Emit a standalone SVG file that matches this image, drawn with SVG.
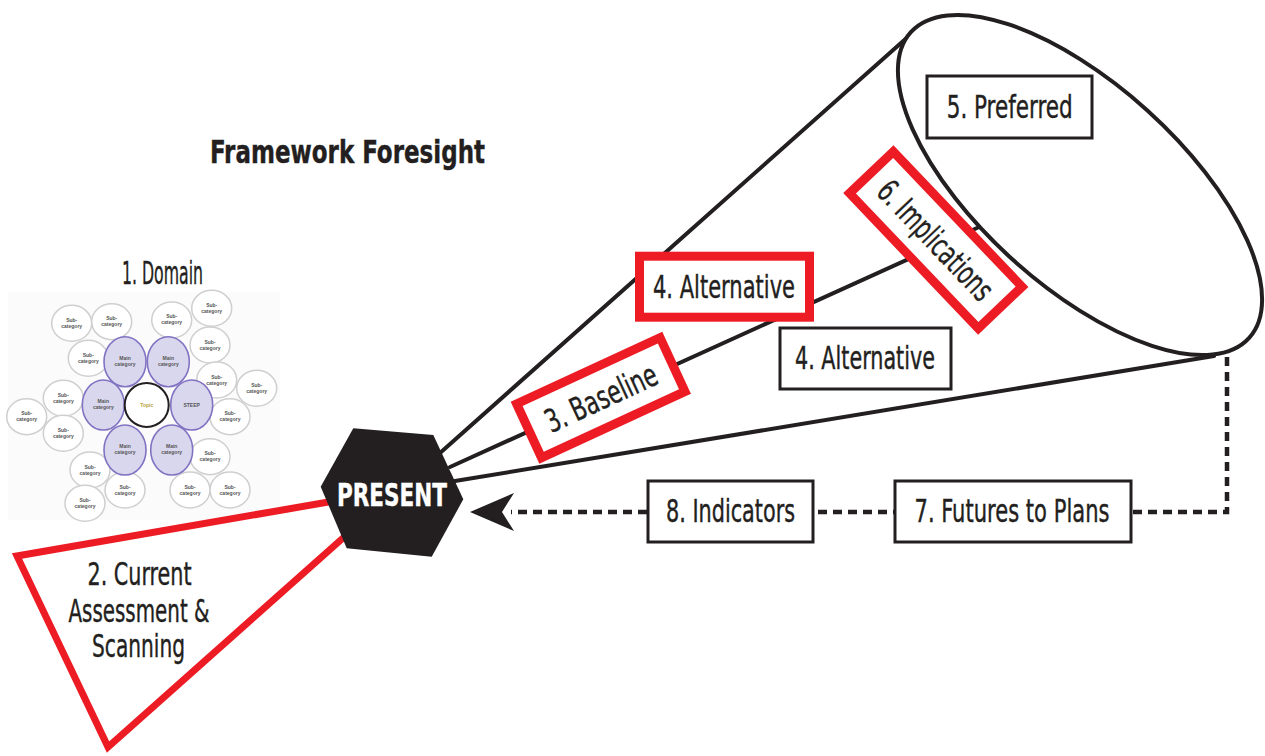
<svg xmlns="http://www.w3.org/2000/svg" width="1265" height="756" viewBox="0 0 1265 756">
<defs>
<style>
.lbl{font-family:"Liberation Sans Narrow","DejaVu Sans Condensed","Liberation Sans",sans-serif;font-size:32px;fill:#231F20;text-anchor:middle;stroke:#231F20;stroke-width:0.4}
.bold{font-weight:bold}
.box{fill:#fff;stroke:#231F20;stroke-width:3}
.rbox{fill:#fff;stroke:#ED1C24;stroke-width:9}
.cone{fill:none;stroke:#231F20;stroke-width:4;stroke-linecap:round}
.dash{fill:none;stroke:#231F20;stroke-width:4.5;stroke-dasharray:9 6}
.sub{fill:#fff;stroke:#CFCFCF;stroke-width:1.5}
.main{fill:#D9D7EE;stroke:#8172C2;stroke-width:1.6}
.tiny{font-family:"Liberation Sans","DejaVu Sans",sans-serif;font-size:5px;fill:#555;text-anchor:middle;font-weight:bold}
</style>
<marker id="arr" markerUnits="userSpaceOnUse" markerWidth="46" markerHeight="40" viewBox="0 0 46 40" refX="3" refY="20" orient="auto">
<path d="M0,1 L44,20 L0,39 L12,20 Z" fill="#231F20"/>
</marker>
</defs>
<rect width="1265" height="756" fill="#fff"/>

<g id="domain-map">
<rect x="8" y="292" width="272" height="228" fill="#FBFBFB"/>
<g>
<ellipse class="sub" cx="71.7" cy="323.3" rx="20" ry="18"/>
<ellipse class="sub" cx="111.7" cy="321.7" rx="20" ry="18"/>
<ellipse class="sub" cx="171.7" cy="320" rx="20" ry="18"/>
<ellipse class="sub" cx="211.7" cy="308.3" rx="20" ry="18"/>
<ellipse class="sub" cx="210" cy="345" rx="20" ry="18"/>
<ellipse class="sub" cx="88.3" cy="358.3" rx="20" ry="18"/>
<ellipse class="sub" cx="216.7" cy="380" rx="20" ry="18"/>
<ellipse class="sub" cx="256.7" cy="388.3" rx="20" ry="18"/>
<ellipse class="sub" cx="63.3" cy="398.3" rx="20" ry="18"/>
<ellipse class="sub" cx="26.7" cy="416.7" rx="20" ry="18"/>
<ellipse class="sub" cx="63.3" cy="433.3" rx="20" ry="18"/>
<ellipse class="sub" cx="230" cy="416.7" rx="20" ry="18"/>
<ellipse class="sub" cx="210" cy="456.7" rx="20" ry="18"/>
<ellipse class="sub" cx="90" cy="470" rx="20" ry="18"/>
<ellipse class="sub" cx="125" cy="490" rx="20" ry="18"/>
<ellipse class="sub" cx="190" cy="490" rx="20" ry="18"/>
<ellipse class="sub" cx="230" cy="490" rx="20" ry="18"/>
<ellipse class="sub" cx="85" cy="503.3" rx="20" ry="18"/>
</g>
<g>
<ellipse class="main" cx="125" cy="361.7" rx="21" ry="25"/>
<ellipse class="main" cx="168.3" cy="361.7" rx="21" ry="25"/>
<ellipse class="main" cx="103.3" cy="405" rx="21" ry="25"/>
<ellipse class="main" cx="191.7" cy="405" rx="21" ry="25"/>
<ellipse class="main" cx="125" cy="450" rx="21" ry="25"/>
<ellipse class="main" cx="171.7" cy="450" rx="21" ry="25"/>
<circle cx="146.7" cy="405" r="22" fill="#fff" stroke="#231F20" stroke-width="2"/>
</g>
<g class="tiny">
<text x="71.7" y="322">Sub-</text><text x="71.7" y="328">category</text>
<text x="111.7" y="320">Sub-</text><text x="111.7" y="326">category</text>
<text x="171.7" y="318">Sub-</text><text x="171.7" y="324">category</text>
<text x="211.7" y="307">Sub-</text><text x="211.7" y="313">category</text>
<text x="210" y="344">Sub-</text><text x="210" y="350">category</text>
<text x="88.3" y="357">Sub-</text><text x="88.3" y="363">category</text>
<text x="216.7" y="379">Sub-</text><text x="216.7" y="385">category</text>
<text x="256.7" y="387">Sub-</text><text x="256.7" y="393">category</text>
<text x="63.3" y="397">Sub-</text><text x="63.3" y="403">category</text>
<text x="26.7" y="415">Sub-</text><text x="26.7" y="421">category</text>
<text x="63.3" y="432">Sub-</text><text x="63.3" y="438">category</text>
<text x="230" y="415">Sub-</text><text x="230" y="421">category</text>
<text x="210" y="455">Sub-</text><text x="210" y="461">category</text>
<text x="90" y="469">Sub-</text><text x="90" y="475">category</text>
<text x="125" y="489">Sub-</text><text x="125" y="495">category</text>
<text x="190" y="489">Sub-</text><text x="190" y="495">category</text>
<text x="230" y="489">Sub-</text><text x="230" y="495">category</text>
<text x="85" y="502">Sub-</text><text x="85" y="508">category</text>
<text x="125" y="360">Main</text><text x="125" y="366">category</text>
<text x="168.3" y="360">Main</text><text x="168.3" y="366">category</text>
<text x="103.3" y="403">Main</text><text x="103.3" y="409">category</text>
<text x="191.7" y="407">STEEP</text>
<text x="125" y="448">Main</text><text x="125" y="454">category</text>
<text x="171.7" y="448">Main</text><text x="171.7" y="454">category</text>
<text x="146.7" y="407" style="fill:#B9A23C">Topic</text>
</g>
</g>

<g id="title">
<text class="lbl bold" x="347.5" y="163" textLength="275" lengthAdjust="spacingAndGlyphs">Framework Foresight</text>
</g>
<g id="label-domain">
<text class="lbl" x="162.5" y="284" textLength="81" lengthAdjust="spacingAndGlyphs">1. Domain</text>
</g>

<g id="connectors">
<path class="cone" d="M440,453 L910,35"/>
<path class="cone" d="M450,467 L977,228"/>
<path class="cone" d="M455,481 L1214,356"/>
<path class="dash" d="M1227,357 V512 H511" marker-end="url(#arr)"/>
</g>

<g id="n2-current">
<polyline points="340,500 17,556 108,747 352,530" fill="none" stroke="#ED1C24" stroke-width="7" stroke-linejoin="miter" stroke-miterlimit="10"/>
<text class="lbl" x="139.5" y="585" textLength="104" lengthAdjust="spacingAndGlyphs">2. Current</text>
<text class="lbl" x="139" y="621.7" textLength="141" lengthAdjust="spacingAndGlyphs">Assessment &amp;</text>
<text class="lbl" x="138.5" y="657" textLength="93" lengthAdjust="spacingAndGlyphs">Scanning</text>
</g>

<g id="present">
<polygon points="320.7,486.7 353.3,428.3 433.3,435 463.3,499.3 431.7,556.7 346.7,548.3" fill="#231F20"/>
<text class="lbl bold" x="392" y="506" style="fill:#fff;stroke:#fff" textLength="110" lengthAdjust="spacingAndGlyphs">PRESENT</text>
</g>

<g id="n5-ellipse">
<ellipse cx="1080" cy="185" rx="228" ry="100.5" transform="rotate(42.1 1080 185)" fill="#fff" stroke="#231F20" stroke-width="4"/>
</g>

<g id="n5-preferred">
<rect class="box" x="927" y="76" width="165" height="62"/>
<text class="lbl" x="1009.7" y="117.8" textLength="126" lengthAdjust="spacingAndGlyphs">5. Preferred</text>
</g>

<g id="n4-alternative-red">
<rect class="rbox" x="639.5" y="256.2" width="170" height="61"/>
<text class="lbl" x="724" y="297.5" textLength="142" lengthAdjust="spacingAndGlyphs">4. Alternative</text>
</g>

<g id="n4-alternative">
<rect class="box" x="780" y="328" width="171" height="61"/>
<text class="lbl" x="865" y="368.8" textLength="140" lengthAdjust="spacingAndGlyphs">4. Alternative</text>
</g>

<g id="n3-baseline" transform="translate(600.8 397.7) rotate(-24.8)">
<rect class="rbox" x="-79" y="-29.7" width="158" height="59.4"/>
<text class="lbl" x="0" y="11.5" textLength="120" lengthAdjust="spacingAndGlyphs">3. Baseline</text>
</g>

<g id="n6-implications" transform="translate(935.8 240) rotate(46.4)">
<rect class="rbox" x="-93.3" y="-30.2" width="186.6" height="60.4"/>
<text class="lbl" x="0" y="11.5" textLength="152" lengthAdjust="spacingAndGlyphs">6. Implications</text>
</g>

<g id="n8-indicators">
<rect class="box" x="648" y="481" width="165" height="61"/>
<text class="lbl" x="730.5" y="522.2" textLength="129" lengthAdjust="spacingAndGlyphs">8. Indicators</text>
</g>

<g id="n7-futures">
<rect class="box" x="895" y="481" width="236" height="61"/>
<text class="lbl" x="1012" y="522.2" textLength="195" lengthAdjust="spacingAndGlyphs">7. Futures to Plans</text>
</g>
</svg>
